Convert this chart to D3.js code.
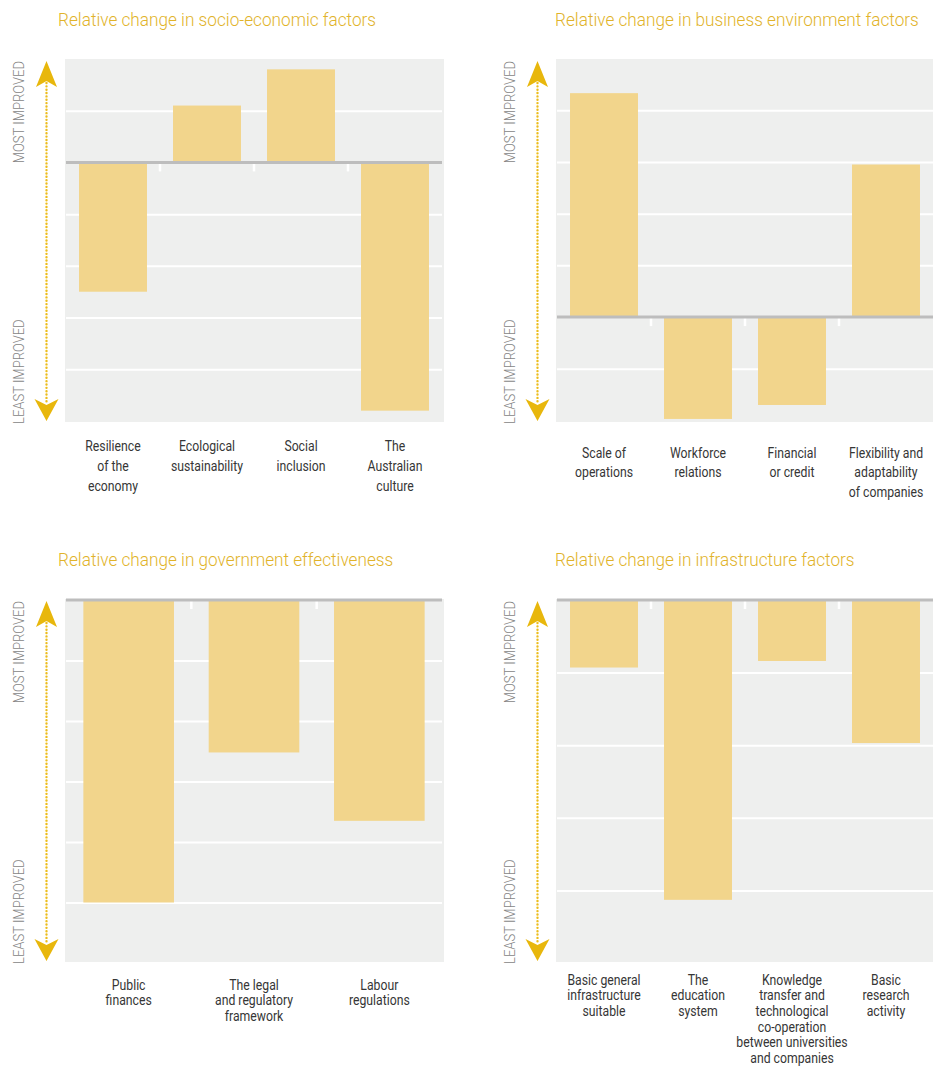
<!DOCTYPE html>
<html>
<head>
<meta charset="utf-8">
<script src="https://cdn.jsdelivr.net/npm/d3@7"></script>
<style>
  html, body { margin: 0; padding: 0; background: #fff; }
  svg { display: block; }
  text { font-family: Roboto, "Liberation Sans", Arial, sans-serif; }
</style>
</head>
<body>
<svg id="chart" width="933" height="1066"></svg>
<script>
// ---- Data -------------------------------------------------------------
const socioTitle = "Relative change in socio-economic factors";
const socioCategories = [["Resilience", "of the", "economy"], ["Ecological", "sustainability"], ["Social", "inclusion"], ["The", "Australian", "culture"]];
const socioValues = [-2.5, 1.1, 1.8, -4.8];
const socioTicks = [2, 1, 0, -1, -2, -3, -4, -5];

const businessTitle = "Relative change in business environment factors";
const businessCategories = [["Scale of", "operations"], ["Workforce", "relations"], ["Financial", "or credit"], ["Flexibility and", "adaptability", "of companies"]];
const businessValues = [4.33, -1.97, -1.7, 2.95];
const businessTicks = [5, 4, 3, 2, 1, 0, -1, -2];

const governmentTitle = "Relative change in government effectiveness";
const governmentCategories = [["Public", "finances"], ["The legal", "and regulatory", "framework"], ["Labour", "regulations"]];
const governmentValues = [-5.0, -2.52, -3.65];
const governmentTicks = [0, -1, -2, -3, -4, -5, -6];

const infraTitle = "Relative change in infrastructure factors";
const infraCategories = [["Basic general", "infrastructure", "suitable"], ["The", "education", "system"], ["Knowledge", "transfer and", "technological", "co-operation", "between universities", "and companies"], ["Basic", "research", "activity"]];
const infraValues = [-0.93, -4.13, -0.84, -1.97];
const infraTicks = [0, -1, -2, -3, -4, -5];

const axisLabels = ["MOST IMPROVED", "LEAST IMPROVED"];

// ---- Styling ----------------------------------------------------------
const COLORS = {
  title: "#e1b32a",
  panel: "#eeefee",
  bar: "#f2d58c",
  grid: "#ffffff",
  zero: "#bdbdbd",
  arrow: "#e8b70c",
  dots: "#ecbd1c",
  side: "#858585",
  label: "#363636"
};

const svg = d3.select("#chart");

// Panel layouts: plot band range (x) and value range (y)
const panels = [
  { title: socioTitle, cats: socioCategories, vals: socioValues, ticks: socioTicks,
    x0: 66, x1: 442, y0: 59, y1: 421, bgTop: 59, bgBot: 422, titleX: 58, titleY: 25.5, labelY: 450.8, lineH: 20 },
  { title: businessTitle, cats: businessCategories, vals: businessValues, ticks: businessTicks,
    x0: 557, x1: 933, y0: 58.5, y1: 420.5, bgTop: 59, bgBot: 422, titleX: 555, titleY: 25.5, labelY: 457.5, lineH: 20 },
  { title: governmentTitle, cats: governmentCategories, vals: governmentValues, ticks: governmentTicks,
    x0: 66, x1: 442, y0: 600, y1: 963, bgTop: 599, bgBot: 962, titleX: 58, titleY: 565.5, labelY: 989.5, lineH: 15.7 },
  { title: infraTitle, cats: infraCategories, vals: infraValues, ticks: infraTicks,
    x0: 557, x1: 933, y0: 600, y1: 963, bgTop: 599, bgBot: 962, titleX: 555, titleY: 565.5, labelY: 984.5, lineH: 15.7 }
];

const TITLE_SIZE = 19, TITLE_SX = 0.905;
const LABEL_SIZE = 15.5, LABEL_SX = 0.79;
const SIDE_SIZE = 15, SIDE_SX = 0.87;

panels.forEach(p => {
  const g = svg.append("g");
  const keys = p.cats.map(c => c.join(" "));

  const x = d3.scaleBand()
    .domain(keys)
    .range([p.x0, p.x1])
    .paddingInner(0.277)
    .paddingOuter(0.1385);

  const y = d3.scaleLinear()
    .domain([d3.max(p.ticks), d3.min(p.ticks)])
    .range([p.y0, p.y1]);

  // Title
  g.append("text")
    .attr("transform", `translate(${p.titleX},${p.titleY}) scale(${TITLE_SX},1)`)
    .attr("font-size", TITLE_SIZE)
    .attr("font-weight", 300)
    .attr("fill", COLORS.title)
    .text(p.title);

  // Panel background
  g.append("rect")
    .attr("x", p.x0 - 1)
    .attr("y", p.bgTop)
    .attr("width", (p.x1 - p.x0) + 3)
    .attr("height", p.bgBot - p.bgTop)
    .attr("fill", COLORS.panel);

  // Horizontal gridlines from the axis generator
  const inner = p.ticks.filter(t => t !== 0 && t !== d3.max(p.ticks) && t !== d3.min(p.ticks));
  const grid = g.append("g")
    .attr("transform", `translate(${p.x0},0)`)
    .call(d3.axisRight(y).tickValues(inner).tickSize(p.x1 - p.x0).tickFormat(""));
  grid.select(".domain").remove();
  grid.selectAll(".tick line").attr("stroke", COLORS.grid).attr("stroke-width", 2);

  // Small white separators below the zero line between categories
  const step = x.step();
  g.selectAll(".sep")
    .data(keys.slice(1))
    .join("line")
    .attr("x1", d => x(d) - step * x.paddingInner() / 2)
    .attr("x2", d => x(d) - step * x.paddingInner() / 2)
    .attr("y1", y(0))
    .attr("y2", y(0) + 9)
    .attr("stroke", COLORS.grid)
    .attr("stroke-width", 2.5);

  // Bars
  g.selectAll(".bar")
    .data(p.vals)
    .join("rect")
    .attr("x", (d, i) => x(keys[i]))
    .attr("width", x.bandwidth())
    .attr("y", d => y(Math.max(0, d)))
    .attr("height", d => Math.abs(y(d) - y(0)))
    .attr("fill", COLORS.bar);

  // Zero baseline
  g.append("line")
    .attr("x1", p.x0).attr("x2", p.x1)
    .attr("y1", y(0)).attr("y2", y(0))
    .attr("stroke", COLORS.zero)
    .attr("stroke-width", 3);

  // Direction arrow with dotted shaft
  const ax = p.x0 - 19.5;
  const upTip = p.bgTop + 2;
  const downTip = p.bgBot - 1;
  g.append("line")
    .attr("x1", ax).attr("x2", ax)
    .attr("y1", upTip + 22).attr("y2", downTip - 17)
    .attr("stroke", COLORS.dots)
    .attr("stroke-width", 2.4)
    .attr("stroke-linecap", "round")
    .attr("stroke-dasharray", "0 3.35");
  g.append("path")
    .attr("d", `M${ax},${upTip} L${ax + 10.5},${upTip + 26} L${ax},${upTip + 20} L${ax - 10.5},${upTip + 26} Z`)
    .attr("fill", COLORS.arrow);
  g.append("path")
    .attr("d", `M${ax},${downTip} L${ax + 12},${downTip - 22} L${ax},${downTip - 16} L${ax - 12},${downTip - 22} Z`)
    .attr("fill", COLORS.arrow);

  // Rotated side labels
  const sx = p.x0 - 42.5;
  g.append("text")
    .attr("transform", `translate(${sx},${p.bgTop + 2}) rotate(-90) scale(${SIDE_SX},1)`)
    .attr("text-anchor", "end")
    .attr("font-size", SIDE_SIZE)
    .attr("font-weight", 300)
    .attr("fill", COLORS.side)
    .text(axisLabels[0]);
  g.append("text")
    .attr("transform", `translate(${sx},${p.bgBot + 2}) rotate(-90) scale(${SIDE_SX},1)`)
    .attr("text-anchor", "start")
    .attr("font-size", SIDE_SIZE)
    .attr("font-weight", 300)
    .attr("fill", COLORS.side)
    .text(axisLabels[1]);

  // Category labels
  p.cats.forEach((lines, i) => {
    const cx = x(keys[i]) + x.bandwidth() / 2;
    const t = g.append("text")
      .attr("transform", `translate(${cx},${p.labelY}) scale(${LABEL_SX},1)`)
      .attr("text-anchor", "middle")
      .attr("font-size", LABEL_SIZE)
      .attr("font-weight", 400)
      .attr("fill", COLORS.label);
    lines.forEach((ln, j) => {
      t.append("tspan").attr("x", 0).attr("y", j * p.lineH).text(ln);
    });
  });
});
</script>
</body>
</html>
